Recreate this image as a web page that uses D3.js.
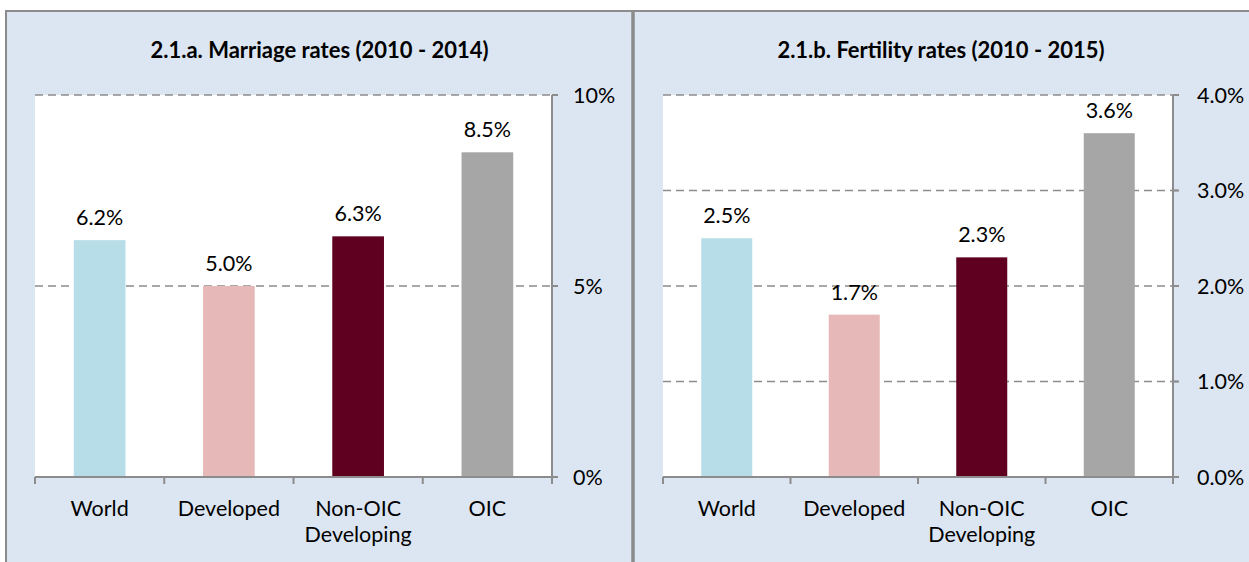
<!DOCTYPE html>
<html>
<head>
<meta charset="utf-8">
<script src="https://cdn.jsdelivr.net/npm/d3@7"></script>
<style>
  html, body { margin: 0; padding: 0; background: #fff; }
  svg { display: block; }
  text { font-family: Lato, "Open Sans", sans-serif; fill: #000; }
</style>
</head>
<body>
<svg id="chart" width="1249" height="562"></svg>
<script>
// ---- data ----
const categories = ["World", "Developed", "Non-OIC Developing", "OIC"];
const categoryLines = [["World"], ["Developed"], ["Non-OIC", "Developing"], ["OIC"]];
const marriageValues = [6.2, 5.0, 6.3, 8.5];
const marriageLabels = ["6.2%", "5.0%", "6.3%", "8.5%"];
const fertilityValues = [2.5, 1.7, 2.3, 3.6];
const fertilityLabels = ["2.5%", "1.7%", "2.3%", "3.6%"];
const marriageTicks = [0, 5, 10];
const marriageTickLabels = ["0%", "5%", "10%"];
const fertilityTicks = [0, 1, 2, 3, 4];
const fertilityTickLabels = ["0.0%", "1.0%", "2.0%", "3.0%", "4.0%"];
const titles = ["2.1.a. Marriage rates (2010 - 2014)", "2.1.b. Fertility rates (2010 - 2015)"];
const barColors = ["#B7DDE8", "#E6B9B8", "#600021", "#A6A6A6"];

// ---- layout ----
const svg = d3.select("#chart");
const W = 1249, H = 562;
const bg = "#DCE6F2", lineCol = "#8C8C8C", gridCol = "#8C8C8C";
const FS = 21.5;
const TFS = 22;

svg.append("rect").attr("x", 0).attr("y", 0).attr("width", W).attr("height", H).attr("fill", "#fff");
svg.append("rect").attr("x", 6).attr("y", 11).attr("width", W - 6).attr("height", H - 11).attr("fill", bg);
// borders
svg.append("line").attr("x1", 5).attr("x2", W).attr("y1", 11).attr("y2", 11).attr("stroke", lineCol).attr("stroke-width", 2);
svg.append("line").attr("x1", 6).attr("x2", 6).attr("y1", 10).attr("y2", H).attr("stroke", lineCol).attr("stroke-width", 2);
svg.append("line").attr("x1", 633).attr("x2", 633).attr("y1", 10).attr("y2", H).attr("stroke", lineCol).attr("stroke-width", 3.5);

const panels = [
  { title: titles[0], cx: 319.5, x0: 35, x1: 552, max: 10, values: marriageValues, labels: marriageLabels,
    ticks: marriageTicks, tickLabels: marriageTickLabels, labelDx: 21 },
  { title: titles[1], cx: 941, x0: 663, x1: 1173, max: 4, values: fertilityValues, labels: fertilityLabels,
    ticks: fertilityTicks, tickLabels: fertilityTickLabels, labelDx: 24 }
];

const yTop = 95, yBot = 477;

panels.forEach(p => {
  const g = svg.append("g");
  const x = d3.scaleBand().domain(categories).range([p.x0, p.x1]).paddingInner(0.6).paddingOuter(0.3);
  const y = d3.scaleLinear().domain([0, p.max]).range([yBot, yTop]);

  // title
  g.append("text").attr("x", p.cx).attr("y", 58).attr("text-anchor", "middle")
    .attr("font-size", TFS).attr("font-weight", "bold").text(p.title);

  // plot area
  g.append("rect").attr("x", p.x0).attr("y", yTop).attr("width", p.x1 - p.x0).attr("height", yBot - yTop).attr("fill", "#fff");

  // gridlines
  g.selectAll(".grid").data(p.ticks.filter(t => t > 0)).join("line")
    .attr("x1", p.x0).attr("x2", p.x1 + 6)
    .attr("y1", d => y(d)).attr("y2", d => y(d))
    .attr("stroke", gridCol).attr("stroke-width", 1.6).attr("stroke-dasharray", "8,5");

  // bars
  g.selectAll(".bar").data(p.values).join("rect")
    .attr("x", (d, i) => x(categories[i]))
    .attr("width", x.bandwidth())
    .attr("y", d => y(d))
    .attr("height", d => y(0) - y(d))
    .attr("fill", (d, i) => barColors[i]);

  // data labels
  g.selectAll(".dl").data(p.values).join("text")
    .attr("x", (d, i) => x(categories[i]) + x.bandwidth() / 2)
    .attr("y", d => y(d) - 15)
    .attr("text-anchor", "middle").attr("font-size", FS)
    .text((d, i) => p.labels[i]);

  // x axis line
  g.append("line").attr("x1", p.x0).attr("x2", p.x1 + 6).attr("y1", yBot).attr("y2", yBot)
    .attr("stroke", lineCol).attr("stroke-width", 2);
  // x axis ticks at category boundaries
  const bounds = d3.range(categories.length + 1).map(i => p.x0 + i * x.step());
  g.selectAll(".xt").data(bounds).join("line")
    .attr("x1", d => d).attr("x2", d => d).attr("y1", yBot).attr("y2", yBot + 7)
    .attr("stroke", lineCol).attr("stroke-width", 2);
  // category labels
  categoryLines.forEach((lines, i) => {
    const t = g.append("text").attr("text-anchor", "middle").attr("font-size", FS);
    lines.forEach((ln, j) => {
      t.append("tspan").attr("x", x(categories[i]) + x.bandwidth() / 2).attr("y", 516 + j * 26).text(ln);
    });
  });

  // right y axis
  g.append("line").attr("x1", p.x1).attr("x2", p.x1).attr("y1", yTop).attr("y2", yBot + 7)
    .attr("stroke", lineCol).attr("stroke-width", 2);
  g.selectAll(".yt").data(p.ticks).join("line")
    .attr("x1", p.x1).attr("x2", p.x1 + 6).attr("y1", d => y(d)).attr("y2", d => y(d))
    .attr("stroke", lineCol).attr("stroke-width", 2);
  g.selectAll(".yl").data(p.ticks).join("text")
    .attr("x", p.x1 + p.labelDx).attr("y", d => y(d)).attr("dy", "0.35em")
    .attr("font-size", FS)
    .text((d, i) => p.tickLabels[i]);
});
</script>
</body>
</html>
